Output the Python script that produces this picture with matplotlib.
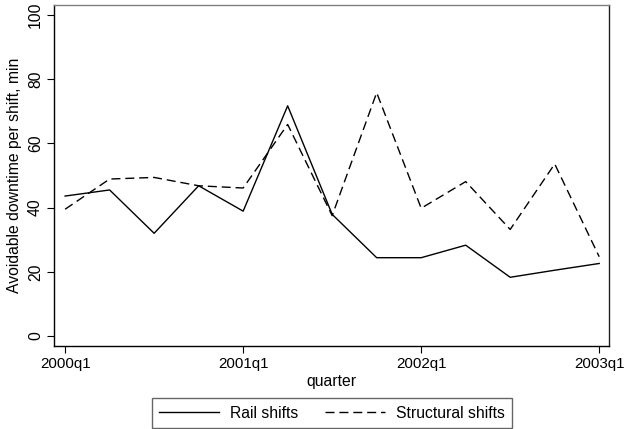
import matplotlib
matplotlib.use("Agg")
import matplotlib.pyplot as plt

plt.rcParams['font.family'] = ['Liberation Sans', 'DejaVu Sans']
plt.rcParams['lines.scale_dashes'] = False

quarters = ["2000q1", "2000q2", "2000q3", "2000q4",
            "2001q1", "2001q2", "2001q3", "2001q4",
            "2002q1", "2002q2", "2002q3", "2002q4", "2003q1"]
rail = [43.6, 45.5, 32.0, 46.8, 38.9, 71.7, 37.9, 24.4, 24.4, 28.3, 18.3, 20.5, 22.6]
structural = [39.5, 48.9, 49.4, 46.8, 46.1, 65.9, 37.5, 75.8, 39.8, 48.1, 33.2, 53.6, 24.7]
x_ticks = ["2000q1", "2001q1", "2002q1", "2003q1"]
y_ticks = [0, 20, 40, 60, 80, 100]

W, H = 624, 429
fig = plt.figure(figsize=(W / 100, H / 100), dpi=100)
ax = fig.add_axes([54 / W, (H - 346) / H, 555 / W, 341 / H])

xs = list(range(len(quarters)))
ax.plot(xs, rail, color='black', lw=1.0, label='Rail shifts')
ax.plot(xs, structural, color='black', lw=1.0, dashes=(6.5, 3.5), label='Structural shifts')

ax.set_xlim(-0.25, 12.22)
ax.set_ylim(-3.1, 103.1)
ax.set_xticks([quarters.index(q) for q in x_ticks])
ax.set_xticklabels(x_ticks, fontsize=10.9)
ax.set_yticks(y_ticks)
ax.set_yticklabels([str(v) for v in y_ticks], fontsize=11.3, rotation=90, va='center')
ax.tick_params(direction='out', length=5, width=0.8, color='black', pad=3)

ax.spines['left'].set_color('black')
ax.spines['bottom'].set_color('black')
ax.spines['right'].set_color('#222222')
ax.spines['top'].set_color('#808080')
for s in ax.spines.values():
    s.set_linewidth(1.0)

ax.set_xlabel('quarter', fontsize=11.3, labelpad=2)
ax.set_ylabel('Avoidable downtime per shift, min', fontsize=11.3, labelpad=4)

leg = fig.legend(loc='center', bbox_to_anchor=(332 / W, (H - 413) / H), ncol=2,
                 frameon=True, fancybox=False, fontsize=11.3, handlelength=3.8,
                 columnspacing=1.7, borderpad=0.45, handletextpad=0.7)
leg.get_frame().set_edgecolor('#404040')
leg.get_frame().set_linewidth(1.0)

fig.savefig('out.png', dpi=100)
